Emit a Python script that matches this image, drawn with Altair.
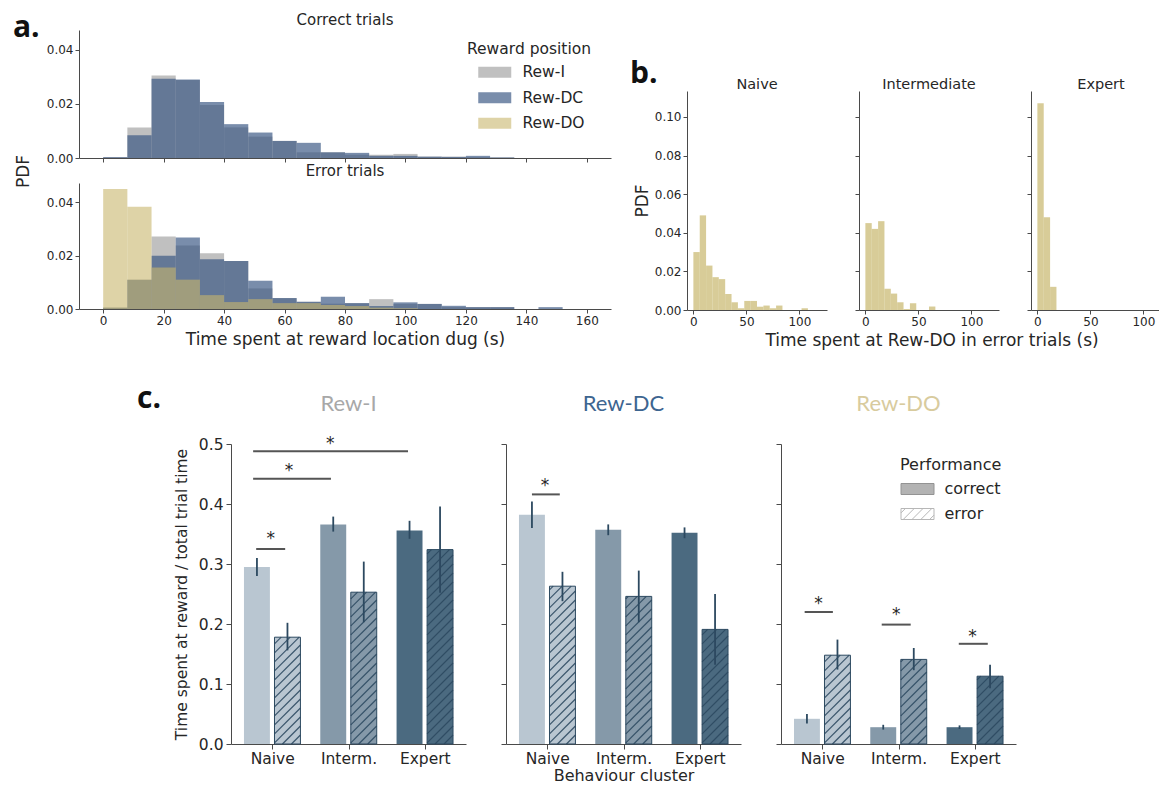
import altair as alt
import pandas as pd

# ---------------- Panel a : PDF of time at reward location (8 s bins) ----------------
positions = ["Rew-I", "Rew-DC", "Rew-DO"]
a_bin_starts = [0, 8, 16, 24, 32, 40, 48, 56, 64, 72, 80, 88, 96, 104, 112, 120, 128, 136, 144, 152]
a_bin_width = 8
correct_I = [0.0003, 0.0113, 0.0305, 0.0288, 0.0196, 0.0113, 0.0079, 0.0063, 0.0021, 0.0021,
             0.0012, 0.0012, 0.0015, 0.0005, 0.0005, 0.0003, 0.0002, 0.0, 0.0, 0.0]
correct_DC = [0.0003, 0.0084, 0.0293, 0.0290, 0.0207, 0.0125, 0.0094, 0.0063, 0.0056, 0.0021,
              0.0019, 0.0008, 0.0008, 0.0005, 0.0004, 0.0008, 0.0002, 0.0, 0.0, 0.0]
correct_DO = [0.0, 0.0, 0.0, 0.0, 0.0, 0.0, 0.0, 0.0, 0.0, 0.0,
              0.0, 0.0, 0.0, 0.0, 0.0, 0.0, 0.0, 0.0, 0.0, 0.0]
error_I = [0.0005, 0.0110, 0.0272, 0.0238, 0.0209, 0.0180, 0.0077, 0.0041, 0.0027, 0.0020,
           0.0022, 0.0037, 0.0019, 0.0019, 0.0007, 0.0007, 0.0007, 0.0, 0.0, 0.0]
error_DC = [0.0005, 0.0110, 0.0200, 0.0268, 0.0187, 0.0180, 0.0106, 0.0041, 0.0027, 0.0046,
            0.0022, 0.0011, 0.0025, 0.0019, 0.0012, 0.0007, 0.0007, 0.0, 0.0007, 0.0]
error_DO = [0.0450, 0.0383, 0.0156, 0.0110, 0.0052, 0.0026, 0.0037, 0.0022, 0.0022, 0.0015,
            0.0011, 0.0005, 0.0003, 0.0, 0.0, 0.0, 0.0, 0.0, 0.0, 0.0]

# ---------------- Panel b : Rew-DO time in error trials (6 s bins) ----------------
b_titles = ["Naive", "Intermediate", "Expert"]
b_bin_starts = [0, 6, 12, 18, 24, 30, 36, 42, 48, 54, 60, 66, 72, 78, 84, 90, 96, 102]
b_bin_width = 6
b_naive = [0.030, 0.049, 0.023, 0.017, 0.016, 0.0083, 0.004, 0.0009, 0.0047, 0.0047,
           0.0017, 0.0023, 0.0009, 0.0023, 0.0, 0.0, 0.0, 0.0009]
b_intermediate = [0.045, 0.042, 0.046, 0.011, 0.0085, 0.004, 0.0005, 0.0035, 0.0, 0.0, 0.0018]
b_expert = [0.107, 0.048, 0.012]

# ---------------- Panel c : fraction of trial time at reward ----------------
c_titles = ["Rew-I", "Rew-DC", "Rew-DO"]
clusters = ["Naive", "Interm.", "Expert"]
perfs = ["correct", "error"]

rewI_correct = [0.295, 0.366, 0.356]
rewI_correct_lo = [0.280, 0.354, 0.342]
rewI_correct_hi = [0.310, 0.379, 0.372]
rewI_error = [0.178, 0.253, 0.324]
rewI_error_lo = [0.156, 0.203, 0.252]
rewI_error_hi = [0.202, 0.304, 0.396]

rewDC_correct = [0.382, 0.357, 0.352]
rewDC_correct_lo = [0.360, 0.348, 0.343]
rewDC_correct_hi = [0.404, 0.366, 0.361]
rewDC_error = [0.263, 0.246, 0.191]
rewDC_error_lo = [0.238, 0.203, 0.132]
rewDC_error_hi = [0.287, 0.289, 0.250]

rewDO_correct = [0.042, 0.028, 0.028]
rewDO_correct_lo = [0.034, 0.024, 0.025]
rewDO_correct_hi = [0.050, 0.032, 0.031]
rewDO_error = [0.148, 0.141, 0.113]
rewDO_error_lo = [0.124, 0.123, 0.093]
rewDO_error_hi = [0.174, 0.160, 0.132]

# significance bars (x from, x to, height) and star positions
rewI_sig_x1 = [-0.21, -0.25, -0.25]
rewI_sig_x2 = [0.17, 0.77, 1.78]
rewI_sig_y = [0.325, 0.442, 0.488]
rewI_star_x = [-0.02, 0.22, 0.76]
rewI_star_y = [0.346, 0.460, 0.505]

rewDC_sig_x1 = [-0.20]
rewDC_sig_x2 = [0.165]
rewDC_sig_y = [0.416]
rewDC_star_x = [-0.03]
rewDC_star_y = [0.435]

rewDO_sig_x1 = [-0.23, 0.78, 1.79]
rewDO_sig_x2 = [0.14, 1.16, 2.17]
rewDO_sig_y = [0.220, 0.199, 0.167]
rewDO_star_x = [-0.05, 0.97, 1.97]
rewDO_star_y = [0.238, 0.220, 0.183]

# ---------------- style ----------------
FONT = "DejaVu Sans"
TXT = "#262626"
SPINE = "#4a4a4a"
pos_fill = ["rgba(150,150,150,0.6)", "rgba(52,82,128,0.66)", "rgba(200,182,108,0.6)"]
b_fill = "rgba(200,182,108,0.7)"
cluster_colors = ["#b9c6d1", "#8599a9", "#4b6a80"]
EDGE = "#2c4960"
HATCH = "#2c4960"
CI = "#2c4960"
SIG = "#555555"
title_colors = ["#a8a8a8", "#3d6590", "#d8cb9e"]


def ax(**kw):
    base = dict(grid=False, domainColor=SPINE, tickColor=SPINE, labelColor=TXT, titleColor=TXT,
                labelFont=FONT, titleFont=FONT, titleFontWeight="normal", tickSize=4,
                labelPadding=2, domainWidth=1, tickWidth=1, labelFlush=False, labelOverlap=False)
    base.update(kw)
    return alt.Axis(**base)


def anchor(xr, yr):
    # invisible layout anchor (fixes the extent of a panel's bounding box)
    return alt.Chart(pd.DataFrame({"k": [0]})).mark_rule(opacity=0, strokeWidth=0).encode(
        x=alt.value(xr), x2=alt.value(xr), y=alt.value(yr), y2=alt.value(yr + 1))


def spacer(w, h):
    return anchor(w, 0).properties(width=w, height=h)


def panel_label(txt, xr, yr):
    return alt.Chart(pd.DataFrame({"t": [txt]})).mark_text(
        font="Open Sans", fontSize=30, fontWeight="bold", align="left",
        baseline="alphabetic", color="#111111"
    ).encode(x=alt.value(xr), y=alt.value(yr), text="t:N")


def title_text(txt, xr, yr, size, color=TXT, font=FONT):
    return alt.Chart(pd.DataFrame({"t": [txt]})).mark_text(
        font=font, fontSize=size, align="center", baseline="alphabetic", color=color
    ).encode(x=alt.value(xr), y=alt.value(yr), text="t:N")


# ---------------- panel a ----------------
def a_frame(I, DC, DO):
    rows = []
    for name, vals in zip(positions, [I, DC, DO]):
        for s, v in zip(a_bin_starts, vals):
            rows.append({"pos": name, "start": s, "end": s + a_bin_width, "pdf": v})
    return pd.DataFrame(rows)


a_x_scale = alt.Scale(domain=[-8, 168], nice=False, zero=False)
a_y_scale = alt.Scale(domain=[0, 0.04725], nice=False)

legend_a = alt.Legend(title="Reward position", orient="none", legendX=388, legendY=12,
                      symbolType="M-3,-1H3V1H-3Z", symbolSize=121, symbolOffset=20,
                      symbolStrokeWidth=0, labelOffset=20, labelFontSize=15.5,
                      titleFontSize=15.5, labelFont=FONT, titleFont=FONT,
                      titleFontWeight="normal", rowPadding=8.5, titlePadding=7, padding=0,
                      labelColor=TXT, titleColor=TXT)


def a_hist(df, bottom):
    xkw = dict(values=list(range(0, 161, 20)), labels=bottom, labelFontSize=12)
    ykw = dict(values=[0, 0.02, 0.04], format=".2f", labelFontSize=12)
    if bottom:
        xkw.update(title="Time spent at reward location dug (s)", titleFontSize=17, titlePadding=5)
        ykw.update(title="PDF", titleFontSize=17, titleX=-47, titleY=-12)
    else:
        xkw.update(title=None)
        ykw.update(title=None)
    color = alt.Color("pos:N", scale=alt.Scale(domain=positions, range=pos_fill),
                      legend=None if bottom else legend_a)
    return alt.Chart(df).mark_bar(strokeWidth=0).encode(
        x=alt.X("start:Q", scale=a_x_scale, axis=ax(**xkw)),
        x2="end:Q",
        y=alt.Y("pdf:Q", scale=a_y_scale, axis=ax(**ykw)),
        y2=alt.datum(0),
        color=color,
    )


a_top = alt.layer(
    a_hist(a_frame(correct_I, correct_DC, correct_DO), False),
    title_text("Correct trials", 266, -5, 15),
    panel_label("a.", -66, 7), anchor(-79, -30), anchor(536, 0), anchor(0, 133)
).properties(width=532, height=128)

a_bot = alt.layer(
    a_hist(a_frame(error_I, error_DC, error_DO), True),
    title_text("Error trials", 266, -7, 15),
    anchor(-79, -20), anchor(0, 176)
).properties(width=532, height=126)

a_col = alt.concat(a_top, a_bot, columns=1, align="none", spacing=-10).resolve_scale(
    color="independent")

# ---------------- panel b ----------------
b_y_scale = alt.Scale(domain=[0, 0.1134], nice=False)


def b_hist(vals, title, first, width, xmax):
    df = pd.DataFrame({"start": b_bin_starts[:len(vals)],
                       "end": [s + b_bin_width for s in b_bin_starts[:len(vals)]],
                       "pdf": vals})
    ykw = dict(values=[0, 0.02, 0.04, 0.06, 0.08, 0.10], format=".2f", labels=first,
               labelFontSize=12)
    if first:
        ykw.update(title="PDF", titleFontSize=17, titlePadding=3)
    else:
        ykw.update(title=None)
    bars = alt.Chart(df).mark_bar(color=b_fill, strokeWidth=0).encode(
        x=alt.X("start:Q", scale=alt.Scale(domain=[-6, xmax], nice=False, zero=False),
                axis=ax(values=[0, 50, 100], labelFontSize=12, title=None)),
        x2="end:Q",
        y=alt.Y("pdf:Q", scale=b_y_scale, axis=ax(**ykw)),
        y2=alt.datum(0),
    )
    layers = [bars, title_text(title, 70, -2, 14.5)]
    if first:
        layers += [panel_label("b.", -57, -8), anchor(-62, -40)]
    else:
        layers += [anchor(0, -40)]
    return alt.layer(*layers).properties(width=width, height=219)


b1 = b_hist(b_naive, b_titles[0], True, 140, 126)
b2 = b_hist(b_intermediate, b_titles[1], False, 140, 126)
b3 = b_hist(b_expert, b_titles[2], False, 128, 114.7)

b_row = alt.concat(b1, b2, b3, columns=3, align="none", spacing=27)
b_col = alt.concat(spacer(1, 1), b_row, columns=1, align="none", spacing=20).properties(
    title=alt.TitleParams("Time spent at Rew-DO in error trials (s)", orient="bottom",
                          font=FONT, fontSize=17, fontWeight="normal", color=TXT,
                          offset=6, dx=40, anchor="middle"))

row1 = alt.concat(a_col, b_col, columns=2, align="none", spacing=10).resolve_scale(
    color="independent")

# ---------------- panel c ----------------
c_x_scale = alt.Scale(domain=[-0.54, 2.54], nice=False, zero=False)
c_y_scale = alt.Scale(domain=[0, 0.5], nice=False)
label_expr = "[" + ",".join("'" + c + "'" for c in clusters) + "][datum.value]"
PX_X = 235 / 3.08   # pixels per x unit (for the hatch pattern)
PX_Y = 300 / 0.5    # pixels per y unit
HATCH_STEP = 9.0

RECT = "M-3,-1H3V1H-3Z"
RECT_HATCH = "M-3,-1H3V1H-3Z M-3,-0.2L-2.2,-1 M-2.6,1L-0.6,-1 M-1,1L1,-1 M0.6,1L2.6,-1 M2.2,1L3,0.2"
perf_legend = alt.Legend(title="Performance", orient="none", legendX=119, legendY=13,
                         symbolSize=121, symbolOffset=9.5, symbolStrokeWidth=1,
                         labelOffset=19, labelFontSize=16, titleFontSize=16,
                         labelFont=FONT, titleFont=FONT, titleFontWeight="normal",
                         rowPadding=9, titlePadding=8, padding=0, labelColor=TXT,
                         titleColor=TXT)


def hatch_segments(x0, x1, h):
    W = (x1 - x0) * PX_X
    H = h * PX_Y
    segs = []
    c = -W
    while c < H:
        s = max(0.0, -c)
        e = min(W, H - c)
        if e > s:
            segs.append({"hx0": x0 + s / PX_X, "hy0": (s + c) / PX_Y,
                         "hx1": x0 + e / PX_X, "hy1": (e + c) / PX_Y})
        c += HATCH_STEP
    return segs


def c_panel(idx, corr, corr_lo, corr_hi, err, err_lo, err_hi,
            sx1, sx2, sy, stx, sty, first, middle, last):
    rows = []
    for k, cl in enumerate(clusters):
        rows.append(dict(cluster=cl, perf="correct", x0=k - 0.37, x1=k - 0.03,
                         cx=k - 0.2, mean=corr[k], lo=corr_lo[k], hi=corr_hi[k]))
        rows.append(dict(cluster=cl, perf="error", x0=k + 0.03, x1=k + 0.37,
                         cx=k + 0.2, mean=err[k], lo=err_lo[k], hi=err_hi[k]))
    df = pd.DataFrame(rows)
    hatch_rows = []
    for r in rows:
        if r["perf"] == "error":
            hatch_rows += hatch_segments(r["x0"], r["x1"], r["mean"])
    hdf = pd.DataFrame(hatch_rows)
    sig_df = pd.DataFrame({"x1": sx1, "x2": sx2, "y": sy})
    star_df = pd.DataFrame({"x": stx, "y": sty})

    xkw = dict(values=[0, 1, 2], labelExpr=label_expr, labelFontSize=15.5, tickSize=5,
               labelPadding=2)
    if middle:
        xkw.update(title="Behaviour cluster", titleFontSize=16, titlePadding=1)
    else:
        xkw.update(title=None)
    ykw = dict(values=[0, 0.1, 0.2, 0.3, 0.4, 0.5], format=".1f", labels=first,
               labelFontSize=15.5, tickSize=5, labelPadding=3)
    if first:
        ykw.update(title="Time spent at reward / total trial time", titleFontSize=15.5,
                   titlePadding=9)
    else:
        ykw.update(title=None)
    xa = ax(**xkw)
    ya = ax(**ykw)

    def X(f):
        return alt.X(f, scale=c_x_scale, axis=xa)

    def Y(f):
        return alt.Y(f, scale=c_y_scale, axis=ya)

    ccol = alt.Color("cluster:N", scale=alt.Scale(domain=clusters, range=cluster_colors),
                     legend=None)
    base = alt.Chart(df)
    bars_c = base.transform_filter("datum.perf == 'correct'").mark_bar(strokeWidth=0).encode(
        x=X("x0:Q"), x2="x1:Q", y=Y("mean:Q"), y2=alt.datum(0), color=ccol)
    bars_e = base.transform_filter("datum.perf == 'error'").mark_bar(
        stroke=EDGE, strokeWidth=1).encode(x=X("x0:Q"), x2="x1:Q", y=Y("mean:Q"),
                                           y2=alt.datum(0), color=ccol)
    hatch = alt.Chart(hdf).mark_rule(color=HATCH, strokeWidth=1.2, opacity=0.9).encode(
        x=X("hx0:Q"), x2="hx1:Q", y=Y("hy0:Q"), y2="hy1:Q")
    ci = base.mark_rule(color=CI, strokeWidth=1.8).encode(x=X("cx:Q"), y=Y("lo:Q"), y2="hi:Q")
    sig = alt.Chart(sig_df).mark_rule(color=SIG, strokeWidth=2).encode(
        x=X("x1:Q"), x2="x2:Q", y=Y("y:Q"))
    stars = alt.Chart(star_df).mark_text(text="*", fontSize=17, font=FONT, color=TXT,
                                         baseline="middle", dy=3).encode(x=X("x:Q"), y=Y("y:Q"))
    layers = [bars_c, bars_e, hatch, ci, sig, stars,
              title_text(c_titles[idx], 117.5, -33, 22, title_colors[idx], "Lato")]
    if first:
        layers += [panel_label("c.", -94, -36), anchor(-100, -67)]
    else:
        layers += [anchor(0, -67)]
    if last:
        pdf_ = pd.DataFrame({"perf": perfs})
        layers.append(alt.Chart(pdf_).mark_point(filled=True, size=0).encode(
            x=alt.value(0), y=alt.value(0),
            fill=alt.Fill("perf:N", scale=alt.Scale(domain=perfs, range=["#666666", "#ffffff"]),
                          legend=perf_legend),
            stroke=alt.Stroke("perf:N", scale=alt.Scale(domain=perfs, range=["#666666", "#999999"]),
                              legend=perf_legend),
            shape=alt.Shape("perf:N", scale=alt.Scale(domain=perfs, range=[RECT, RECT_HATCH]),
                            legend=perf_legend),
        ))
    return alt.layer(*layers).properties(width=235, height=300)


c1 = c_panel(0, rewI_correct, rewI_correct_lo, rewI_correct_hi, rewI_error, rewI_error_lo,
             rewI_error_hi, rewI_sig_x1, rewI_sig_x2, rewI_sig_y, rewI_star_x, rewI_star_y,
             True, False, False)
c2 = c_panel(1, rewDC_correct, rewDC_correct_lo, rewDC_correct_hi, rewDC_error, rewDC_error_lo,
             rewDC_error_hi, rewDC_sig_x1, rewDC_sig_x2, rewDC_sig_y, rewDC_star_x, rewDC_star_y,
             False, True, False)
c3 = c_panel(2, rewDO_correct, rewDO_correct_lo, rewDO_correct_hi, rewDO_error, rewDO_error_lo,
             rewDO_error_hi, rewDO_sig_x1, rewDO_sig_x2, rewDO_sig_y, rewDO_star_x, rewDO_star_y,
             False, False, True)

row2 = alt.concat(spacer(18, 1), c1, c2, c3, columns=4, align="none", spacing=34).resolve_scale(
    color="independent", fill="independent", stroke="independent", shape="independent")

chart = alt.concat(row1, row2, columns=1, align="none", spacing=17).resolve_scale(
    color="independent", fill="independent", stroke="independent", shape="independent"
).properties(padding=0).configure(font=FONT).configure_view(stroke=None)

chart.save("out.html", embed_options={"renderer": "svg", "actions": False})
